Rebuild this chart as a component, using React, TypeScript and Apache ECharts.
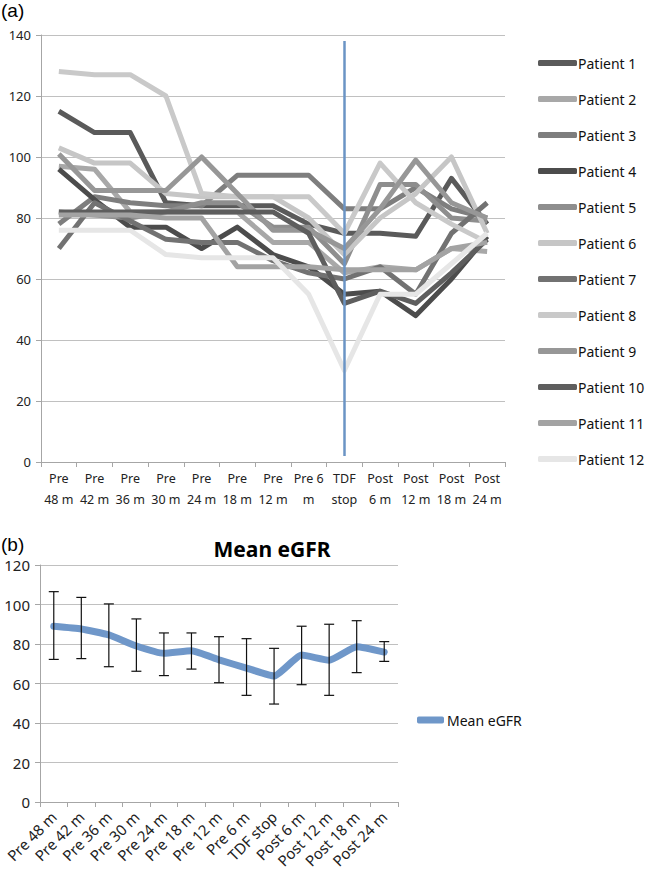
import React, { useEffect, useRef } from "react";
import * as echarts from "echarts";

const topCategories = ["Pre\n48 m", "Pre\n42 m", "Pre\n36 m", "Pre\n30 m", "Pre\n24 m", "Pre\n18 m", "Pre\n12 m", "Pre 6\nm", "TDF\nstop", "Post\n6 m", "Post\n12 m", "Post\n18 m", "Post\n24 m"];
const bottomCategories = ["Pre 48 m", "Pre 42 m", "Pre 36 m", "Pre 30 m", "Pre 24 m", "Pre 18 m", "Pre 12 m", "Pre 6 m", "TDF stop", "Post 6 m", "Post 12 m", "Post 18 m", "Post 24 m"];

const patientNames = ["Patient 1", "Patient 2", "Patient 3", "Patient 4", "Patient 5", "Patient 6", "Patient 7", "Patient 8", "Patient 9", "Patient 10", "Patient 11", "Patient 12"];
const patientColors = ["#5a5a5a", "#a8a8a8", "#7e7e7e", "#4c4c4c", "#8e8e8e", "#c6c6c6", "#727272", "#c9c9c9", "#979797", "#5e5e5e", "#a3a3a3", "#e6e6e6"];

const patient1 = [115, 108, 108, 85, 84, 84, 84, 78, 75, 75, 74, 93, 78];
const patient2 = [97, 96, 82, 82, 82, 82, 72, 72, 62, 64, 63, 70, 69];
const patient3 = [78, 87, 85, 84, 84, 94, 94, 94, 83, 83, 90, 83, 80];
const patient4 = [96, 86, 77, 77, 70, 77, 68, 64, 55, 56, 48, 60, 74];
const patient5 = [82, 81, 80, 82, 85, 85, 77, 77, 65, 91, 91, 80, 79];
const patient6 = [103, 98, 98, 88, 87, 87, 87, 80, 68, 80, 88, 100, 75];
const patient7 = [70, 85, 79, 73, 72, 72, 66, 62, 60, 64, 55, 75, 85];
const patient8 = [128, 127, 127, 120, 88, 87, 87, 87, 75, 98, 85, 78, 72];
const patient9 = [101, 89, 89, 89, 100, 88, 76, 76, 70, 83, 99, 85, 80];
const patient10 = [82, 82, 82, 82, 82, 82, 82, 75, 52, 56, 52, 62, 73];
const patient11 = [81, 81, 81, 80, 80, 64, 64, 64, 63, 63, 63, 70, 72];
const patient12 = [76, 76, 76, 68, 67, 67, 67, 55, 30, 55, 55, 65, 75];
const patientData = [patient1, patient2, patient3, patient4, patient5, patient6, patient7, patient8, patient9, patient10, patient11, patient12];

const meanEGFR = [89, 87.6, 84.6, 79, 75.3, 76.6, 72, 67.8, 63.8, 74.4, 71.8, 78.6, 75.9];
const errLow = [72.2, 72.6, 68.5, 66.2, 64, 67.3, 60.4, 54, 49.6, 59.4, 54, 65.5, 71.2];
const errHigh = [106.5, 103.6, 100.3, 92.7, 85.6, 85.6, 83.7, 82.7, 77.8, 89, 90, 91.8, 81.2];

const topYTicks = { min: 0, max: 140, interval: 20 };
const bottomYTicks = { min: 0, max: 120, interval: 20 };

const FONT = "'Noto Sans', 'Open Sans', sans-serif";

export default function App() {
  const ref = useRef<HTMLDivElement>(null);
  useEffect(() => {
    if (!ref.current) return;
    const chart = echarts.init(ref.current, null, { renderer: "svg" });
    const axisGray = "#a6a6a6";
    const gridGray = "#c0c0c0";
    const option: any = {
      animation: false,
      backgroundColor: "#ffffff",
      textStyle: { fontFamily: FONT },
      title: [
        {
          text: "Mean eGFR",
          left: 267,
          top: 533,
          textAlign: "center",
          textStyle: { fontFamily: FONT, fontSize: 21, fontWeight: "bold", color: "#000" },
        },
      ],
      graphic: [
        { type: "text", left: 1, top: 1, style: { text: "(a)", font: "19px 'Liberation Sans', Arial, sans-serif", fill: "#000" } },
        { type: "text", left: 1, top: 535, style: { text: "(b)", font: "19px 'Liberation Sans', Arial, sans-serif", fill: "#000" } },
      ],
      legend: [
        {
          orient: "vertical",
          left: 533,
          top: 49,
          itemWidth: 39,
          itemHeight: 6,
          itemGap: 18,
          icon: "roundRect",
          data: patientNames,
          textStyle: { fontFamily: FONT, fontSize: 14, color: "#111", lineHeight: 18, padding: [0, 0, 0, -4] },
        },
        {
          orient: "vertical",
          left: 412,
          top: 708,
          itemWidth: 27,
          itemHeight: 7,
          icon: "roundRect",
          data: ["Mean eGFR"],
          textStyle: { fontFamily: FONT, fontSize: 14, color: "#111", padding: [0, 0, 0, -2] },
        },
      ],
      grid: [
        { left: 41, top: 35, width: 464, height: 427, containLabel: false },
        { left: 40, top: 565, width: 358, height: 237, containLabel: false },
      ],
      xAxis: [
        {
          type: "category",
          gridIndex: 0,
          data: topCategories,
          boundaryGap: true,
          axisLine: { lineStyle: { color: axisGray, width: 1 } },
          axisTick: { show: true, alignWithLabel: false, length: 5, lineStyle: { color: axisGray } },
          axisLabel: { fontFamily: FONT, fontSize: 12.5, color: "#222", lineHeight: 21, margin: 6, interval: 0 },
          splitLine: { show: false },
        },
        {
          type: "category",
          gridIndex: 1,
          data: bottomCategories,
          boundaryGap: true,
          axisLine: { lineStyle: { color: axisGray, width: 1 } },
          axisTick: { show: true, length: 5, lineStyle: { color: axisGray } },
          axisLabel: { fontFamily: FONT, fontSize: 15, color: "#222", rotate: 45, margin: 12, interval: 0 },
          splitLine: { show: false },
        },
      ],
      yAxis: [
        {
          type: "value",
          gridIndex: 0,
          ...topYTicks,
          axisLine: { show: true, lineStyle: { color: axisGray } },
          axisTick: { show: true, length: 5, lineStyle: { color: axisGray } },
          axisLabel: { fontFamily: FONT, fontSize: 13, color: "#222", margin: 10 },
          splitLine: { show: true, lineStyle: { color: gridGray, width: 1 } },
        },
        {
          type: "value",
          gridIndex: 1,
          ...bottomYTicks,
          axisLine: { show: true, lineStyle: { color: axisGray } },
          axisTick: { show: true, length: 5, lineStyle: { color: axisGray } },
          axisLabel: { fontFamily: FONT, fontSize: 15, color: "#222", margin: 10 },
          splitLine: { show: true, lineStyle: { color: gridGray, width: 1 } },
        },
      ],
      series: [
        ...patientNames.map((name, i) => ({
          name,
          type: "line",
          xAxisIndex: 0,
          yAxisIndex: 0,
          data: patientData[i],
          showSymbol: false,
          symbol: "none",
          color: patientColors[i],
          lineStyle: { color: patientColors[i], width: 5, join: "round" },
          z: 2,
          ...(i === 0
            ? {
                markLine: {
                  silent: true,
                  symbol: "none",
                  label: { show: false },
                  lineStyle: { color: "#6b94c5", width: 2.5, type: "solid" },
                  data: [[{ coord: [8, 2] }, { coord: [8, 138] }]],
                  z: 10,
                },
              }
            : {}),
        })),
        {
          name: "Mean eGFR",
          type: "line",
          xAxisIndex: 1,
          yAxisIndex: 1,
          data: meanEGFR,
          showSymbol: false,
          symbol: "none",
          smooth: 0.15,
          color: "#6f97c9",
          lineStyle: { color: "#6f97c9", width: 7, cap: "round" },
          z: 2,
        },
        {
          name: "errorbars",
          type: "custom",
          xAxisIndex: 1,
          yAxisIndex: 1,
          z: 5,
          data: bottomCategories.map((_, i) => [i, errLow[i], errHigh[i]]),
          encode: { x: 0, y: [1, 2] },
          renderItem: (params: any, api: any) => {
            const idx = api.value(0);
            const hi = api.coord([idx, api.value(2)]);
            const lo = api.coord([idx, api.value(1)]);
            const w = 5;
            const st = { stroke: "#111", lineWidth: 1.2 };
            return {
              type: "group",
              children: [
                { type: "line", shape: { x1: hi[0], y1: hi[1], x2: lo[0], y2: lo[1] }, style: st },
                { type: "line", shape: { x1: hi[0] - w, y1: hi[1], x2: hi[0] + w, y2: hi[1] }, style: st },
                { type: "line", shape: { x1: lo[0] - w, y1: lo[1], x2: lo[0] + w, y2: lo[1] }, style: st },
              ],
            };
          },
        },
      ],
    };
    chart.setOption(option);
    return () => chart.dispose();
  }, []);
  return <div ref={ref} style={{ position: "fixed", left: 0, top: 0, width: 653, height: 883 }} />;
}
